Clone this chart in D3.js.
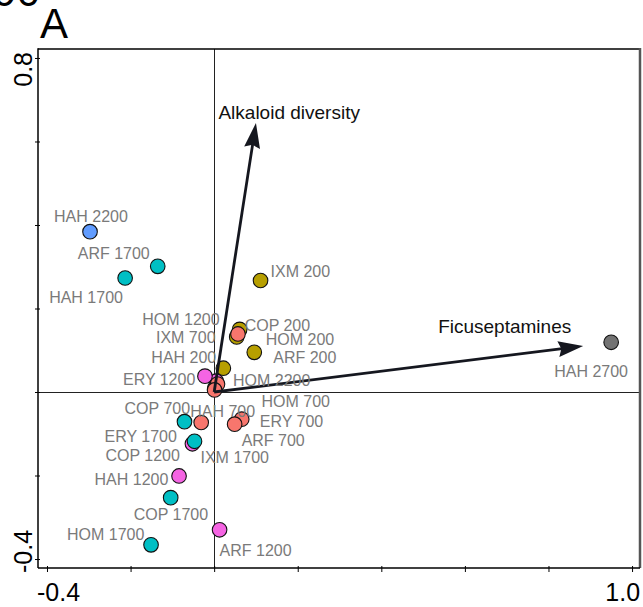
<!DOCTYPE html>
<html>
<head>
<meta charset="utf-8">
<script src="https://cdn.jsdelivr.net/npm/d3@7"></script>
<style>
  body { margin: 0; background: #fff; }
  svg { display: block; }
</style>
</head>
<body>
<script>
// sample scores (site + elevation) on the two ordination axes
var names = ["IXM 200", "COP 200", "HOM 200", "ARF 200", "HAH 200",
             "HOM 1200", "ERY 1200", "COP 1200", "HAH 1200", "ARF 1200",
             "HAH 2200", "HOM 2200",
             "IXM 700", "HOM 700", "COP 700", "HAH 700", "ERY 700", "ARF 700",
             "ARF 1700", "HAH 1700", "ERY 1700", "IXM 1700", "COP 1700", "HOM 1700",
             "HAH 2700"];
var elevation = [200, 200, 200, 200, 200,
                 1200, 1200, 1200, 1200, 1200,
                 2200, 2200,
                 700, 700, 700, 700, 700, 700,
                 1700, 1700, 1700, 1700, 1700, 1700,
                 2700];
var axis1 = [0.111, 0.061, 0.054, 0.096, 0.022,
             0.005, -0.022, -0.052, -0.084, 0.013,
             -0.297, 0.002,
             0.057, 0.008, 0.001, -0.031, 0.066, 0.049,
             -0.135, -0.213, -0.071, -0.047, -0.104, -0.151,
             0.950];
var axis2 = [0.267, 0.150, 0.132, 0.095, 0.057,
             0.026, 0.038, -0.124, -0.201, -0.330,
             0.384, 0.010,
             0.139, 0.019, 0.005, -0.073, -0.065, -0.077,
             0.301, 0.273, -0.071, -0.118, -0.253, -0.366,
             0.119];

// environmental vectors
var vectorNames = ["Alkaloid diversity", "Ficuseptamines"];
var vectorX = [0.100, 0.883];
var vectorY = [0.644, 0.110];

var xTicks = [-0.4, -0.2, 0, 0.2, 0.4, 0.6, 0.8, 1.0];
var yTicks = [-0.4, -0.2, 0, 0.2, 0.4, 0.6, 0.8];
var xTickLabels = ["-0.4", "1.0"];
var yTickLabels = ["-0.4", "0.8"];

var elevColors = {200: "#B79F00", 700: "#F8766D", 1200: "#F564E3",
                  1700: "#00BFC4", 2200: "#619CFF", 2700: "#737373"};

// label nudges in px (text start, baseline) relative to point
var labelNudge = {
  "HAH 2200": [-36, -10], "ARF 1700": [-80, -7], "HAH 1700": [-76, 25],
  "IXM 200": [10, -4], "COP 200": [5, 1.5], "HOM 1200": [-74, -56],
  "IXM 700": [-82, 9], "HOM 200": [29, 8], "HAH 200": [-72, -5],
  "ARF 200": [19, 11], "ERY 1200": [-82, 9], "HOM 2200": [18, -2],
  "HOM 700": [44, 23], "COP 700": [-90, 24.5], "HAH 700": [-11, -5],
  "ERY 700": [18, 8], "ERY 1700": [-80, 20], "ARF 700": [7, 21.5],
  "COP 1200": [-87, 17.5], "IXM 1700": [6, 22], "HAH 1200": [-84.5, 9],
  "COP 1700": [-37, 22], "HOM 1700": [-84, -5], "ARF 1200": [0, 26.5],
  "HAH 2700": [-57, 35]
};
var vectorNudge = [[-37.5, -4], [-145, -13]];

buildIt();

function buildIt () {

  var data = names.map(function (n, i) {
    return {name: n, elev: elevation[i], x: axis1[i], y: axis2[i]};
  });

  var w = 643, h = 607;
  var pLeft = 38, pRight = 640, pTop = 49, pBottom = 568;
  var font = "'Liberation Sans', Arial, sans-serif";

  var svg = d3.select("body").append("svg")
    .attr("width", w)
    .attr("height", h);

  var xScale = d3.scaleLinear().domain([-0.4215, 1.019]).range([pLeft, pRight]);
  var yScale = d3.scaleLinear().domain([-0.4215, 0.8215]).range([pBottom, pTop]);

  /* ===== PANEL TEXT ===== */
  svg.append("text")
    .attr("x", 40).attr("y", 5.5)
    .attr("text-anchor", "end")
    .attr("font-family", font).attr("font-size", "42px")
    .text("90");

  svg.append("text")
    .attr("x", 40).attr("y", 38)
    .attr("font-family", font).attr("font-size", "42px")
    .text("A");

  /* ===== ZERO LINES ===== */
  svg.append("line")
    .attr("x1", Math.round(xScale(0)) + 0.5).attr("x2", Math.round(xScale(0)) + 0.5)
    .attr("y1", pTop).attr("y2", pBottom)
    .attr("stroke", "#222").attr("stroke-width", 1);
  svg.append("line")
    .attr("x1", pLeft).attr("x2", pRight)
    .attr("y1", Math.round(yScale(0)) + 0.5).attr("y2", Math.round(yScale(0)) + 0.5)
    .attr("stroke", "#222").attr("stroke-width", 1);

  /* ===== FRAME + AXES ===== */
  svg.append("line").attr("x1", pLeft).attr("x2", pRight).attr("y1", pTop).attr("y2", pTop)
    .attr("stroke", "#000").attr("stroke-width", 1.5);
  svg.append("line").attr("x1", pRight).attr("x2", pRight).attr("y1", pTop - 1).attr("y2", pBottom)
    .attr("stroke", "#555").attr("stroke-width", 2.5);

  var xAxis = d3.axisBottom(xScale)
    .tickValues(xTicks)
    .tickSize(4)
    .tickFormat("");
  var gx = svg.append("g")
    .attr("transform", "translate(0," + pBottom + ")")
    .call(xAxis);
  gx.select(".domain").attr("d", "M" + pLeft + ",0H" + pRight)
    .attr("stroke-width", 1.5);
  gx.selectAll(".tick line").attr("y1", -2).attr("stroke-width", 1);

  var yAxis = d3.axisLeft(yScale)
    .tickValues(yTicks)
    .tickSize(3)
    .tickFormat("");
  var gy = svg.append("g")
    .attr("transform", "translate(" + pLeft + ",0)")
    .call(yAxis);
  gy.select(".domain").attr("d", "M0," + (pTop - 0.75) + "V" + pBottom)
    .attr("stroke-width", 1.5);
  gy.selectAll(".tick line").attr("x1", 2).attr("stroke-width", 1);

  // only the end ticks are labelled, kept inside the frame
  svg.append("text")
    .attr("x", xScale(xTicks[0]) - 10).attr("y", 601)
    .attr("font-family", font).attr("font-size", "25px")
    .text(xTickLabels[0]);
  svg.append("text")
    .attr("x", xScale(xTicks[xTicks.length - 1]) + 8).attr("y", 601)
    .attr("text-anchor", "end")
    .attr("font-family", font).attr("font-size", "25px")
    .text(xTickLabels[1]);
  svg.append("text")
    .attr("transform", "translate(32," + (yScale(yTicks[0]) + 14) + ") rotate(-90)")
    .attr("font-family", font).attr("font-size", "25px")
    .text(yTickLabels[0]);
  svg.append("text")
    .attr("transform", "translate(32," + (yScale(yTicks[yTicks.length - 1]) - 6) + ") rotate(-90)")
    .attr("text-anchor", "end")
    .attr("font-family", font).attr("font-size", "25px")
    .text(yTickLabels[1]);

  /* ===== POINTS ===== */
  svg.append("g").selectAll("circle")
    .data(data)
    .enter()
    .append("circle")
    .attr("cx", function (d) { return xScale(d.x); })
    .attr("cy", function (d) { return yScale(d.y); })
    .attr("r", 7.3)
    .attr("fill", function (d) { return elevColors[d.elev]; })
    .attr("stroke", "#111")
    .attr("stroke-width", 1.1);

  /* ===== VECTORS ===== */
  var arrowCol = "#15171f";
  vectorNames.forEach(function (name, i) {
    var x0 = xScale(0), y0 = yScale(0);
    var x1 = xScale(vectorX[i]), y1 = yScale(vectorY[i]);
    var ang = Math.atan2(y1 - y0, x1 - x0);
    var len = 25, half = 8, nb = 3;
    var bx = x1 - len * Math.cos(ang), by = y1 - len * Math.sin(ang);
    var nx = -Math.sin(ang), ny = Math.cos(ang);
    svg.append("line")
      .attr("x1", x0).attr("y1", y0)
      .attr("x2", bx + 4 * Math.cos(ang)).attr("y2", by + 4 * Math.sin(ang))
      .attr("stroke", arrowCol).attr("stroke-width", 2.8);
    svg.append("path")
      .attr("d", "M" + x1 + "," + y1 +
        "L" + (bx + half * nx) + "," + (by + half * ny) +
        "L" + (bx + nb * Math.cos(ang)) + "," + (by + nb * Math.sin(ang)) +
        "L" + (bx - half * nx) + "," + (by - half * ny) + "Z")
      .attr("fill", arrowCol);
    svg.append("text")
      .attr("x", x1 + vectorNudge[i][0])
      .attr("y", y1 + vectorNudge[i][1])
      .attr("font-family", font).attr("font-size", "19px")
      .attr("fill", "#111")
      .text(name);
  });

  /* ===== POINT LABELS ===== */
  svg.append("g").selectAll("text")
    .data(data)
    .enter()
    .append("text")
    .attr("x", function (d) { return xScale(d.x) + labelNudge[d.name][0]; })
    .attr("y", function (d) { return yScale(d.y) + labelNudge[d.name][1]; })
    .attr("font-family", font)
    .attr("font-size", "16px")
    .attr("fill", "#7a7a7a")
    .text(function (d) { return d.name; });
}
</script>
</body>
</html>
